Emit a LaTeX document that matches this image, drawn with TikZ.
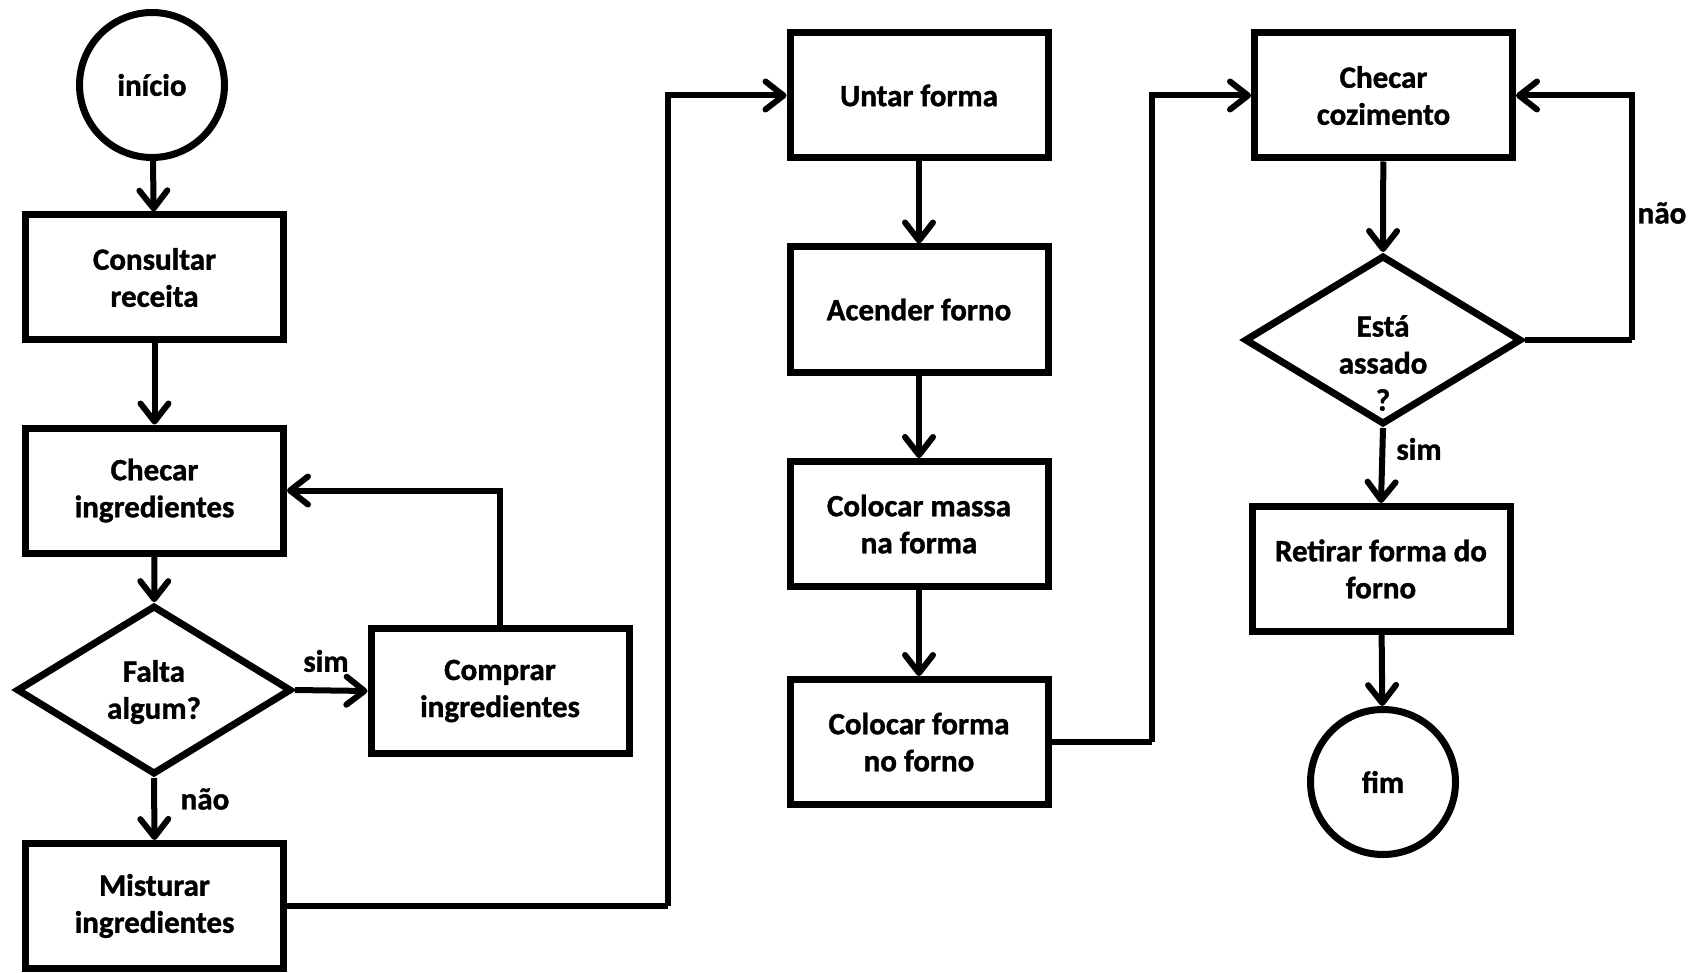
\documentclass[tikz,border=0pt]{standalone}
\usepackage{fontspec}
\setmainfont{Carlito}[BoldFeatures={FakeBold=1.2}]
\usetikzlibrary{arrows.meta,shapes.geometric}
\tikzset{
  every node/.style={font=\fontsize{31}{37}\selectfont\bfseries},
  box/.style={draw, line width=7pt, rectangle, minimum width=258pt, minimum height=125pt, align=center, inner sep=0pt},
  term/.style={draw, line width=7pt, circle, minimum size=145pt, inner sep=0pt},
  dia/.style={draw, line width=7pt, diamond, inner sep=0pt},
  txt/.style={align=center, inner sep=0pt},
  conn/.style={line width=6pt, -{Straight Barb[length=18pt,width=28pt,line width=6pt,round]}},
  plain/.style={line width=6pt},
  lbl/.style={inner sep=0pt}
}
\begin{document}
\begin{tikzpicture}[x=1pt,y=-1pt]
\useasboundingbox (0,0) rectangle (1702,973);
% column 1
\node[term] (ini) at (152,85) {início};
\node[box] (cons) at (154.5,277.5) {Consultar\\receita};
\node[box] (chk) at (154.5,490.5) {Checar\\ingredientes};
\node[dia, minimum width=275pt, minimum height=169pt] (d1) at (154,690) {};
\node[txt] (d1t) at (154,692) {Falta\\algum?};
\node[box] (comp) at (500,691) {Comprar\\ingredientes};
\node[box] (mist) at (154.5,906) {Misturar\\ingredientes};
% column 2
\node[box] (untar) at (919,95.5) {Untar forma};
\node[box] (acen) at (919,309.5) {Acender forno};
\node[box] (massa) at (919,524) {Colocar massa\\na forma};
\node[box] (forno) at (919,742) {Colocar forma\\no forno};
% column 3
\node[box] (coz) at (1383.5,95.5) {Checar\\cozimento};
\node[dia, minimum width=277pt, minimum height=169pt] (d2) at (1383,340) {};
\node[txt] (d2t) at (1383,363) {Está\\assado\\?};
\node[box] (ret) at (1381,569) {Retirar forma do\\forno};
\node[term] (fim) at (1383,782) {fim};
% junction points
\coordinate (j1) at (668,906);
\coordinate (j2) at (1152,742);
\coordinate (j3) at (1632,340);
% connectors
\draw[conn] (ini) -- (cons);
\draw[conn] (cons) -- (chk);
\draw[conn] (chk) -- (d1);
\draw[conn] (d1.east) -- (comp.west);
\draw[conn] (d1.south) -- (mist.north);
\draw[conn] (comp.north) |- (chk.east);
\draw[plain] (mist.east) -- (j1);
\draw[conn] (j1) |- (untar.west);
\draw[conn] (untar) -- (acen);
\draw[conn] (acen) -- (massa);
\draw[conn] (massa) -- (forno);
\draw[plain] (forno.east) -- (j2);
\draw[conn] (j2) |- (coz.west);
\draw[conn] (coz) -- (d2.north);
\draw[plain] (d2.east) -- (j3);
\draw[conn] (j3) |- (coz.east);
\draw[conn] (d2.south) -- (ret.north);
\draw[conn] (ret) -- (fim);
% labels
\node[lbl] (lsim1) at (326,661) {sim};
\node[lbl] (lnao1) at (205,799) {não};
\node[lbl] (lnao2) at (1662,213) {não};
\node[lbl] (lsim2) at (1419,449) {sim};
\end{tikzpicture}
\end{document}
